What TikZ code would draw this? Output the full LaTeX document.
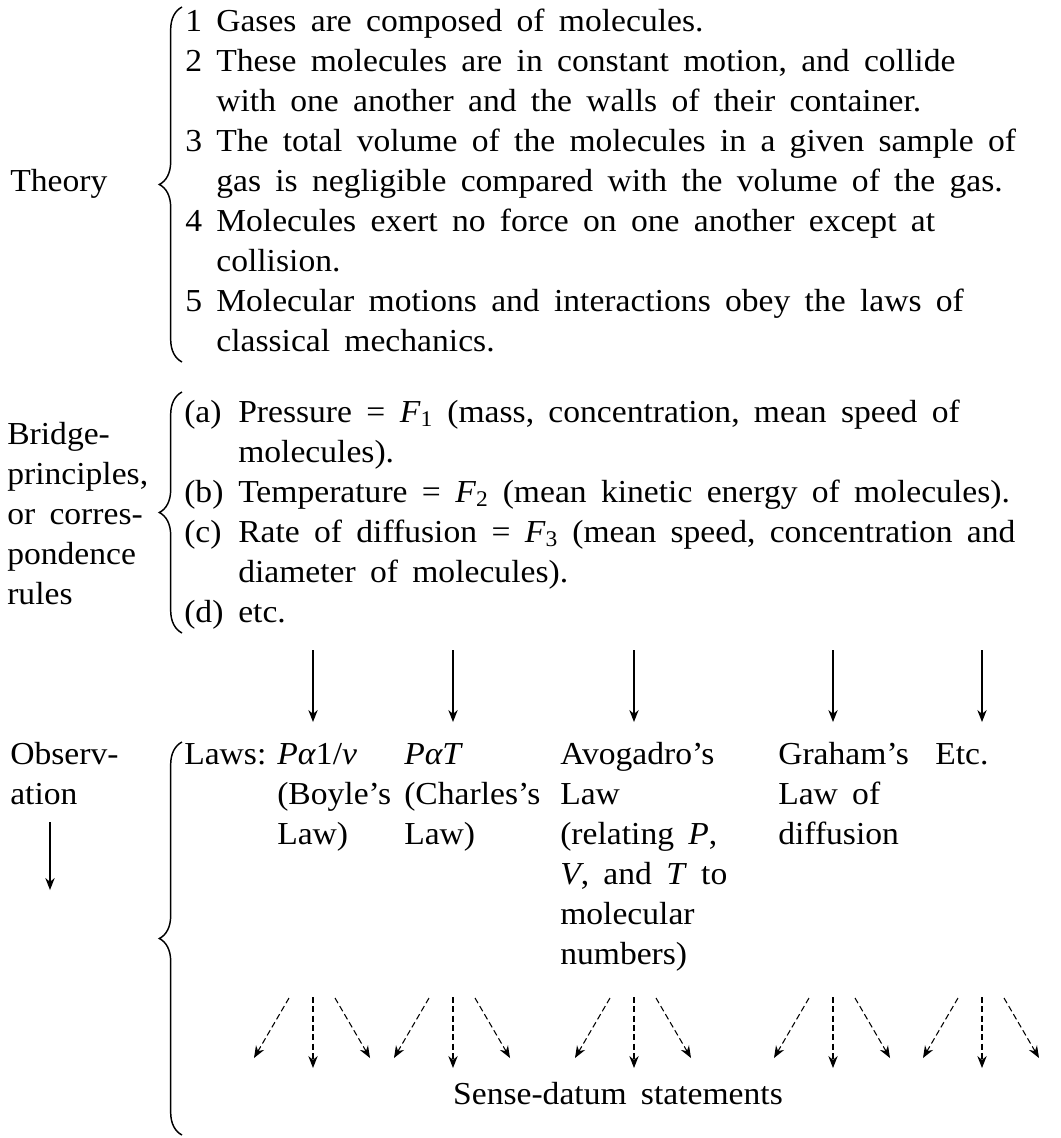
\documentclass[tikz,border=0pt]{standalone}
\usepackage{fontspec}
\setmainfont{Liberation Serif}[WordSpace=1.7, FakeStretch=1.05]
\usetikzlibrary{arrows.meta, decorations.pathreplacing, positioning, calc}

% every text block is placed at the baseline of its LAST line
\tikzset{
  txt/.style={font=\fontsize{24}{30}\selectfont, inner sep=0pt, align=left, anchor=base west},
  brc/.style={decorate, decoration={brace, amplitude=17pt, aspect=0.5}, line width=1.1pt},
  solidarr/.style={->, line width=0.9pt},
  dasharr/.style={->, line width=0.8pt, dash pattern=on 4.5pt off 2.5pt},
}
\newcommand\brlab[1]{\makebox[40.5pt][l]{#1}}
\newcommand\brind{\hspace*{40.5pt}}
\newcommand\thind{\hphantom{0}\ }
\newcommand\eqs{\hspace{0.45em}=\hspace{0.45em}}

\begin{document}
\begin{tikzpicture}[x=0.75pt, y=-0.75pt, >={Stealth[length=9pt, width=7pt]}]
    \useasboundingbox (0,0) rectangle (1060,1138);

    % --- Theory ---
    \node[txt] (theory) at (10,191) {Theory};
    \node[txt] (tlist) at (185,351) {1 Gases are composed of molecules.\\
        2 These molecules are in constant motion, and collide\\
        \thind with one another and the walls of their container.\\
        3 The total volume of the molecules in a given sample of\\
        \thind gas is negligible compared with the volume of the gas.\\
        4 Molecules exert no force on one another except at\\
        \thind collision.\\
        5 Molecular motions and interactions obey the laws of\\
        \thind classical mechanics.};
    \draw[brc] (182,362) -- (182,7);

    % --- Bridge-principles ---
    \node[txt] (bridge) at (7,604) {Bridge-\\principles,\\or corres-\\pondence\\rules};
    \node[txt] (blist) at (184,622) {\brlab{(a)}Pressure\eqs\textit{F}\textsubscript{1} (mass, concentration, mean speed of\\
        \brind molecules).\\
        \brlab{(b)}Temperature\eqs\textit{F}\textsubscript{2} (mean kinetic energy of molecules).\\
        \brlab{(c)}Rate of diffusion\eqs\textit{F}\textsubscript{3} (mean speed, concentration and\\
        \brind diameter of molecules).\\
        \brlab{(d)}etc.};
    \draw[brc] (182,633) -- (182,392);

    % --- Observation ---
    \node[txt] (obs) at (10,804) {Observ-\\ation};
    \coordinate (obstop) at (50,822);
    \coordinate (obsbot) at (50,890);
    \draw[solidarr] (obstop) -- (obsbot);
    \draw[brc] (182,1135) -- (182,742);

    \node[txt] (laws) at (184,764) {Laws:};
    \node[txt] (boyle) at (277,844) {\textit{Pα}1/\textit{v}\\(Boyle’s\\Law)};
    \node[txt] (charles) at (404,844) {\textit{PαT}\\(Charles’s\\Law)};
    \node[txt] (avog) at (560,964) {Avogadro’s\\Law\\(relating \textit{P},\\\textit{V}, and \textit{T} to\\molecular\\numbers)};
    \node[txt] (graham) at (778,844) {Graham’s\\Law of\\diffusion};
    \node[txt] (etc) at (935,764) {Etc.};

    % arrows down to each law, then the fan to the sense-data
    \foreach \x [count=\i] in {313, 453, 634, 833, 982} {
        \coordinate (top\i) at (\x,650);
        \coordinate (bot\i) at (\x,722);
        \draw[solidarr] (top\i) -- (bot\i);
        \coordinate (fl\i) at (\x-24,998);  \coordinate (gl\i) at (\x-59,1058);
        \coordinate (fm\i) at (\x,997);     \coordinate (gm\i) at (\x,1068);
        \coordinate (fr\i) at (\x+22,998);  \coordinate (gr\i) at (\x+57,1058);
        \draw[dasharr] (fl\i) -- (gl\i);
        \draw[dasharr] (fm\i) -- (gm\i);
        \draw[dasharr] (fr\i) -- (gr\i);
    }
    \node[txt, anchor=base] (sense) at (618,1104) {Sense-datum statements};
\end{tikzpicture}
\end{document}
